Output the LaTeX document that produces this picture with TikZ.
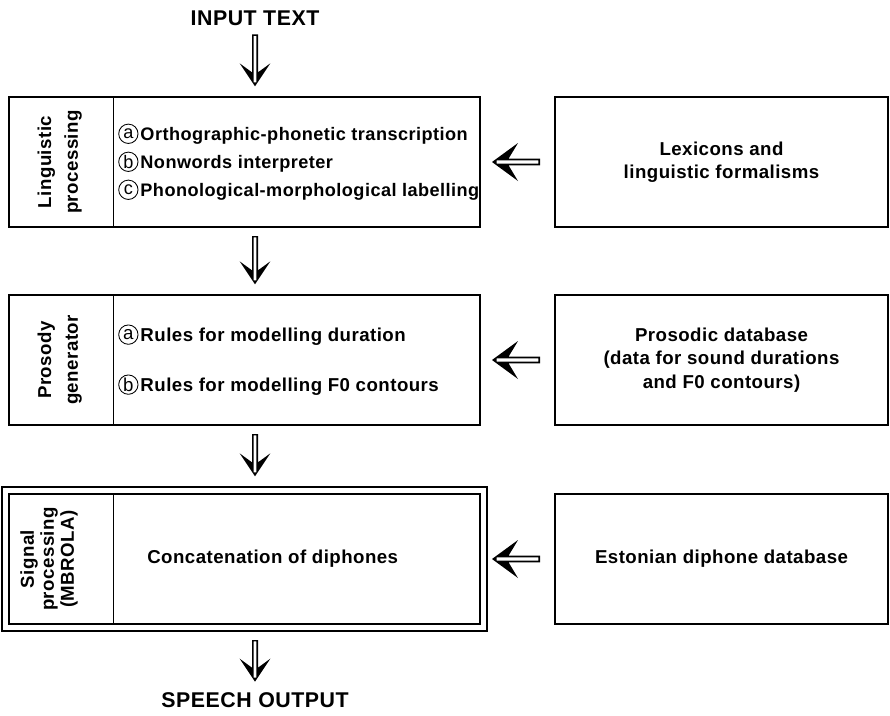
\documentclass[tikz,border=0pt]{standalone}
\usepackage{fontspec}
\setmainfont{Liberation Sans}[LetterSpace=2.5]
\usetikzlibrary{positioning,fit,calc}

\newcommand{\itemmark}[1]{\tikz[baseline={([yshift=-0.7ex]m.center)}]\node[draw, circle, line width=0.65pt, inner sep=0pt, minimum size=14.5pt, font=\mdseries] (m) {#1};}

\begin{document}
\begin{tikzpicture}[
  font=\fontsize{14pt}{21pt}\selectfont\bfseries,
  stagebox/.style={
    draw,
    line width=1.2pt,
    minimum width=353.25pt,
    minimum height=97.5pt,
    inner sep=0pt,
    outer sep=0pt
  },
  sourcebox/.style={
    draw,
    line width=1.2pt,
    minimum width=249.75pt,
    minimum height=97.5pt,
    inner sep=0pt,
    outer sep=0pt,
    align=center,
    font=\fontsize{14pt}{17.5pt}\selectfont\bfseries
  },
  outerframe/.style={
    draw,
    line width=1.2pt,
    inner sep=5.25pt,
    outer sep=0pt
  },
  stagelabel/.style={
    rotate=90,
    align=center,
    inner sep=0pt,
    font=\fontsize{14pt}{20pt}\selectfont\bfseries
  },
  steplist/.style={
    anchor=west,
    align=left,
    inner sep=0pt
  },
  divline/.style={
    line width=0.7pt
  },
  flowtitle/.style={
    inner sep=0pt,
    outer sep=0pt,
    font=\fontsize{16pt}{19pt}\selectfont\bfseries
  },
  hollowdown/.style={
    fill=black,
    even odd rule,
    to path={
      let \p1=(\tikztostart), \p2=(\tikztotarget) in
      (\x1-2.25pt,\y1-6.75pt) -- (\x1-2.25pt,\y2+18.5pt) -- (\x1-11.5pt,\y2+25.25pt) -- (\x1,\y2+8pt)
      -- (\x1+11.5pt,\y2+25.25pt) -- (\x1+2.25pt,\y2+18.5pt) -- (\x1+2.25pt,\y1-6.75pt) -- cycle
      (\x1-1.1pt,\y1-7.85pt) rectangle (\x1+1.1pt,\y2+11pt)
    }
  },
  lefthollow/.style={
    fill=black,
    even odd rule,
    to path={
      let \p1=(\tikztostart), \p2=(\tikztotarget) in
      (\x1-11.25pt,\y1+2.6pt) -- (\x2+21.5pt,\y1+2.6pt) -- (\x2+28.5pt,\y1+14.25pt) -- (\x2+9pt,\y1)
      -- (\x2+28.5pt,\y1-14.25pt) -- (\x2+21.5pt,\y1-2.6pt) -- (\x1-11.25pt,\y1-2.6pt) -- cycle
      (\x1-12.5pt,\y1+1.3pt) rectangle (\x2+12.5pt,\y1-1.3pt)
    }
  }
]

  \useasboundingbox (0,0) rectangle (667.5pt,-536.25pt);

  % Input and the three processing stages
  \node[flowtitle] (input) at (191.25pt,-13.5pt) {INPUT TEXT};

  \node[stagebox, anchor=north west] (ling) at (6.75pt,-72.75pt) {};
  \node[stagebox, below=51pt of ling] (pros) {};
  \node[stagebox, below=51.75pt of pros] (sig) {};
  \node[outerframe, fit=(sig)] (sigframe) {};

  \node[flowtitle, below=46pt of sigframe, xshift=7.9pt] (output) {SPEECH OUTPUT};

  % --- Label cells ---
  \draw[divline] ([xshift=78pt]ling.north west) -- ([xshift=78pt]ling.south west);
  \draw[divline] ([xshift=78pt]pros.north west) -- ([xshift=78pt]pros.south west);
  \draw[divline] ([xshift=78pt]sig.north west) -- ([xshift=78pt]sig.south west);

  \node[stagelabel] (linglab) at ([xshift=38pt]ling.west) {Linguistic\\processing};
  \node[stagelabel] (proslab) at ([xshift=38pt]pros.west) {Prosody\\generator};
  \node[stagelabel, font=\fontsize{14pt}{15pt}\selectfont\bfseries] (siglab) at ([xshift=30pt]sig.west) {Signal\\processing\\(MBROLA)};

  % --- Stage contents ---
  \node[steplist, font=\fontsize{13.6pt}{21pt}\selectfont\bfseries] (lingsteps) at ([xshift=81.75pt]ling.west) {
    \itemmark{a}\hspace{1.5pt}Orthographic-phonetic transcription\\
    \itemmark{b}\hspace{1.5pt}Nonwords interpreter\\
    \itemmark{c}\hspace{1.5pt}Phonological-morphological labelling
  };

  \node[steplist] (prossteps) at ([xshift=81.75pt]pros.west) {
    \itemmark{a}\hspace{1.5pt}Rules for modelling duration\\[16.5pt]
    \itemmark{b}\hspace{1.5pt}Rules for modelling F0 contours
  };

  \node[steplist] (sigstep) at ([xshift=103.5pt]sig.west) {Concatenation of diphones};

  % --- Databases on the right ---
  \node[sourcebox, right=56.25pt of ling] (lex) {Lexicons and\\linguistic formalisms};
  \node[sourcebox, right=56.25pt of pros] (prosdb) {Prosodic database\\(data for sound durations\\and F0 contours)};
  \node[sourcebox, right=56.25pt of sig] (diph) {Estonian diphone database};

  % Main flow
  \path[hollowdown] (input.south) to (ling.north);
  \path[hollowdown] (ling.south -| input.south) to (pros.north);
  \path[hollowdown] (pros.south -| input.south) to (sigframe.north);
  \path[hollowdown] (sigframe.south -| input.south) to (output.north);

  % Knowledge sources feeding the stages
  \path[lefthollow] (lex.west) to (ling.east);
  \path[lefthollow] (prosdb.west) to (pros.east);
  \path[lefthollow] (diph.west) to (sig.east);

\end{tikzpicture}
\end{document}
